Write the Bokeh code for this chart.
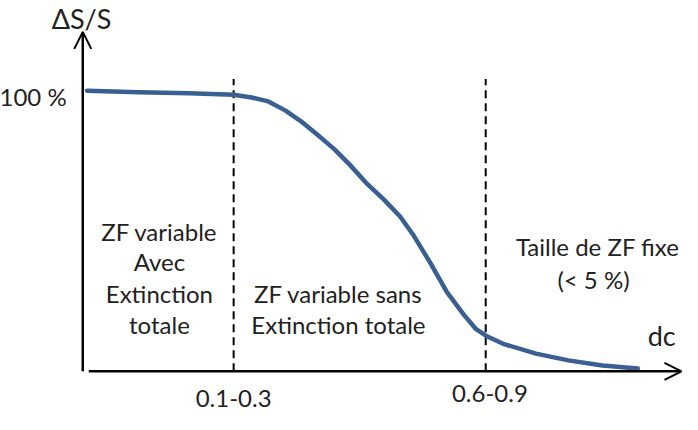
from bokeh.plotting import figure
from bokeh.models import Range1d, Arrow, OpenHead
from bokeh.embed import file_html
from bokeh.resources import INLINE
from bokeh.core.properties import value

# ---- data (schematic units: x = % of axis length, y = ΔS/S in %) ----
curve_x = [0.7, 9.4, 17.7, 25.2, 28.2, 31.0, 33.8, 36.4, 39.2, 42.1, 44.7, 47.5,
           50.3, 53.0, 55.3, 58.0, 60.8, 63.6, 65.7, 67.4, 70.2, 75.7, 81.1, 86.8, 92.7]
curve_y = [100.0, 99.5, 99.1, 98.6, 97.6, 96.2, 93.0, 89.2, 84.3, 79.0, 73.4, 66.8,
           61.2, 55.2, 48.3, 38.8, 28.3, 20.3, 15.0, 12.6, 9.8, 6.3, 3.9, 2.1, 1.0]

boundary_x = [25.2, 67.3]
boundary_top = [104.2, 104.2]
tick_labels = ["0.1-0.3", "0.6-0.9"]
tick_label_x = [25.2, 68.0]
tick_label_y = [-9.8, -8.0]

axis_x_end = 100.0
axis_y_end = 121.0

region_lines = ["ZF variable", "Avec", "Extinction", "totale",
                "ZF variable sans", "Extinction totale",
                "Taille de ZF fixe", "(< 5 %)"]
region_x = [12.8, 12.8, 12.8, 12.8, 42.7, 42.7, 86.0, 85.3]
region_y = [50.0, 39.1, 27.9, 16.8, 27.9, 16.7, 44.6, 32.7]

p = figure(width=682, height=414, output_backend="svg", toolbar_location=None,
           title=None, x_axis_type=None, y_axis_type=None,
           x_range=Range1d(-13.74, 100.17), y_range=Range1d(-15.4, 132.17),
           min_border=0, background_fill_color="white", border_fill_color="white")
p.outline_line_color = None

# axes with open arrow heads
p.add_layout(Arrow(end=OpenHead(size=17, line_width=2, line_color="black"),
                   x_start=0, y_start=0, x_end=0, y_end=axis_y_end,
                   line_width=2.5, line_color="black"))
p.add_layout(Arrow(end=OpenHead(size=17, line_width=2, line_color="black"),
                   x_start=1.0, y_start=0, x_end=axis_x_end, y_end=0,
                   line_width=2.5, line_color="black"))

# dashed boundaries
p.segment(x0=boundary_x, y0=[0, 0], x1=boundary_x, y1=boundary_top,
          line_color="black", line_width=2, line_dash="8 5")

# curve
p.line(curve_x, curve_y, line_color="#3A5F92", line_width=4.5, line_cap="round",
       line_join="round")

font = value("Lato")
tc = "#222222"
fs = "24px"

p.text(x=tick_label_x, y=tick_label_y, text=tick_labels, text_align="center",
       text_baseline="middle", text_font=font, text_font_size=fs, text_color=tc)
p.text(x=region_x, y=region_y, text=region_lines, text_align="center",
       text_baseline="middle", text_font=font, text_font_size=fs, text_color=tc)
p.text(x=[-0.2], y=[125.8], text=["ΔS/S"], text_align="center",
       text_baseline="middle", text_font=font, text_font_size="27px", text_color=tc)
p.text(x=[-8.3], y=[98.0], text=["100 %"], text_align="center",
       text_baseline="middle", text_font=font, text_font_size=fs, text_color=tc)
p.text(x=[96.7], y=[12.8], text=["dc"], text_align="center",
       text_baseline="middle", text_font=font, text_font_size="27px", text_color=tc)

open("out.html", "w").write(file_html(p, INLINE))
